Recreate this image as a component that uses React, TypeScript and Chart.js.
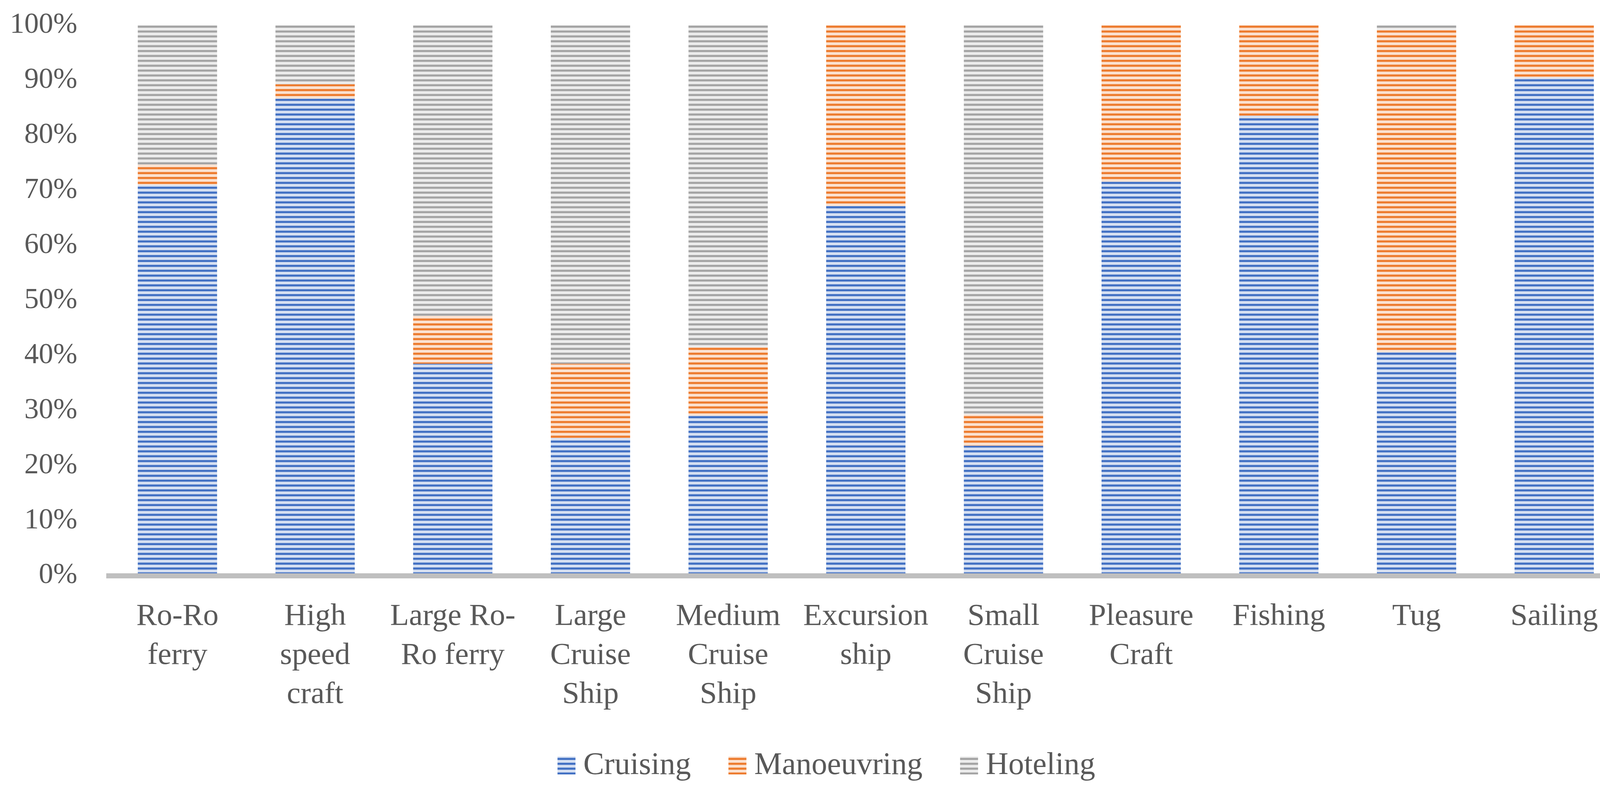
import React, { useEffect, useRef } from "react";
import { Chart, registerables } from "chart.js";

Chart.register(...registerables);

const categories: string[][] = [
  ["Ro-Ro", "ferry"],
  ["High", "speed", "craft"],
  ["Large Ro-", "Ro ferry"],
  ["Large", "Cruise", "Ship"],
  ["Medium", "Cruise", "Ship"],
  ["Excursion", "ship"],
  ["Small", "Cruise", "Ship"],
  ["Pleasure", "Craft"],
  ["Fishing"],
  ["Tug"],
  ["Sailing"],
];

const cruising = [71.0, 86.7, 38.5, 25.0, 29.1, 67.2, 23.6, 71.6, 83.6, 40.6, 90.5];
const manoeuvring = [3.7, 2.6, 8.7, 13.5, 12.4, 32.8, 5.7, 28.4, 16.4, 58.6, 9.5];
const hoteling = [25.3, 10.7, 52.8, 61.5, 58.5, 0, 70.7, 0, 0, 0.8, 0];

const seriesNames = ["Cruising", "Manoeuvring", "Hoteling"];
const yTicks = [0, 10, 20, 30, 40, 50, 60, 70, 80, 90, 100];

const FONT = "'Liberation Serif', 'Times New Roman', serif";
const TEXT = "#595959";

function makePattern(dark: string, light: string): CanvasPattern | string {
  const c = document.createElement("canvas");
  c.width = 4;
  c.height = 25;
  const g = c.getContext("2d");
  if (!g) return dark;
  g.fillStyle = light;
  g.fillRect(0, 0, 4, 25);
  g.fillStyle = dark;
  g.fillRect(0, 0, 4, 5.5);
  g.fillRect(0, 12.5, 4, 5.5);
  const p = g.createPattern(c, "repeat");
  if (!p) return dark;
  try {
    p.setTransform(new DOMMatrix().translate(0, 3));
  } catch (e) {}
  return p;
}

const legendPlugin = {
  id: "customLegend",
  afterDraw(chart: any) {
    const ctx = chart.ctx as CanvasRenderingContext2D;
    const ds = chart.data.datasets;
    const box = 46;
    const gapText = 20;
    const gapItem = 96;
    ctx.save();
    ctx.font = `80px ${FONT}`;
    const widths = ds.map((d: any) => ctx.measureText(d.label).width);
    let total = 0;
    widths.forEach((w: number, i: number) => {
      total += box + gapText + w + (i < widths.length - 1 ? gapItem : 0);
    });
    let x = chart.width / 2 + 15 - total / 2;
    const cy = 1960;
    ds.forEach((d: any, i: number) => {
      ctx.fillStyle = d.backgroundColor;
      ctx.fillRect(x, cy - box / 2, box, box);
      ctx.fillStyle = TEXT;
      ctx.textBaseline = "alphabetic";
      ctx.textAlign = "left";
      ctx.fillText(d.label, x + box + gapText, cy + 22);
      x += box + gapText + widths[i] + gapItem;
    });
    ctx.restore();
  },
};

export default function App() {
  const ref = useRef<HTMLCanvasElement | null>(null);

  useEffect(() => {
    if (!ref.current) return;
    document.body.style.margin = "0";
    const blue = makePattern("#4472C4", "#D6E0F2");
    const orange = makePattern("#ED7D31", "#FBE2D1");
    const gray = makePattern("#A5A5A5", "#ECECEC");
    const chart = new Chart(ref.current, {
      type: "bar",
      data: {
        labels: categories,
        datasets: [
          { label: seriesNames[0], data: cruising, backgroundColor: blue as any },
          { label: seriesNames[1], data: manoeuvring, backgroundColor: orange as any },
          { label: seriesNames[2], data: hoteling, backgroundColor: gray as any },
        ],
      },
      options: {
        responsive: false,
        animation: false,
        devicePixelRatio: 1,
        layout: { padding: { top: 65, right: 46, bottom: 0, left: 0 } },
        datasets: {
          bar: { categoryPercentage: 1, barPercentage: 0.576, borderWidth: 0 },
        },
        plugins: {
          legend: { display: false },
          tooltip: { enabled: false },
        },
        scales: {
          x: {
            stacked: true,
            grid: { display: false, drawTicks: false },
            border: { display: true, color: "#BFBFBF", width: 13, z: 1 },
            ticks: {
              color: TEXT,
              font: { family: FONT, size: 79, lineHeight: 100 / 79 },
              padding: 55,
              maxRotation: 0,
              autoSkip: false,
            },
            afterFit: (s: any) => {
              s.height = 554;
            },
          },
          y: {
            stacked: true,
            min: 0,
            max: 100,
            grid: { display: false, drawTicks: false },
            border: { display: false },
            afterBuildTicks: (s: any) => {
              s.ticks = yTicks.map((v) => ({ value: v }));
            },
            ticks: {
              color: TEXT,
              font: { family: FONT, size: 74 },
              padding: 80,
              callback: (v: any) => `${v}%`,
            },
            afterFit: (s: any) => {
              s.width = 278;
              s.paddingTop = 0;
              s.paddingBottom = 0;
            },
          },
        },
      },
      plugins: [legendPlugin],
    });
    return () => chart.destroy();
  }, []);

  return (
    <div style={{ position: "fixed", left: 0, top: 0, width: 4201, height: 2028, background: "#ffffff" }}>
      <canvas ref={ref} width={4201} height={2028} style={{ width: 4201, height: 2028, display: "block" }} />
    </div>
  );
}
